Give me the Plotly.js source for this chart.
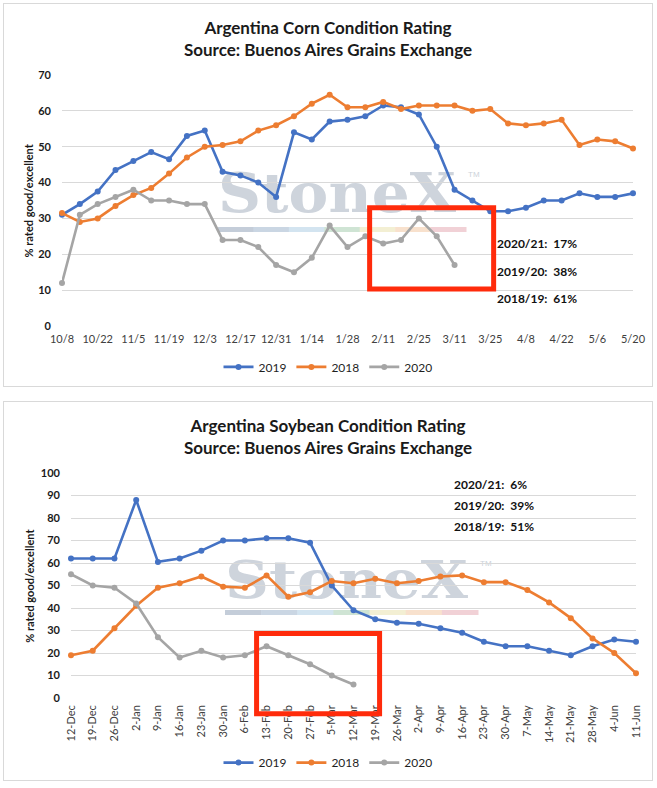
<!DOCTYPE html>
<html>
<head>
<meta charset="utf-8">
<script src="https://cdn.plot.ly/plotly-3.0.1.min.js"></script>
<style>
  html, body { margin: 0; padding: 0; background: #fff; }
  body { width: 657px; height: 788px; position: relative; overflow: hidden; }
  .frame { position: absolute; left: 3px; width: 648px; border: 1px solid #d9d9d9; background: #fff; }
  .frame > svg.wm, .frame > .chart { position: absolute; left: 0; top: 0; }
</style>
</head>
<body>
<div class="frame" id="cornFrame" style="top:3px;height:382px;">
  <svg class="wm" id="cornMark" width="648" height="382"></svg>
  <div class="chart" id="cornChart"></div>
</div>
<div class="frame" id="soyFrame" style="top:401px;height:378px;">
  <svg class="wm" id="soyMark" width="648" height="378"></svg>
  <div class="chart" id="soyChart"></div>
</div>
<script>
// corn: weekly ratings, % good/excellent
const cornWeeks = ["10/8","10/15","10/22","10/29","11/5","11/12","11/19","11/26","12/3","12/10","12/17","12/24","12/31","1/7","1/14","1/21","1/28","2/4","2/11","2/18","2/25","3/4","3/11","3/18","3/25","4/1","4/8","4/15","4/22","4/29","5/6","5/13","5/20"];
const cornTicks = ["10/8","10/22","11/5","11/19","12/3","12/17","12/31","1/14","1/28","2/11","2/25","3/11","3/25","4/8","4/22","5/6","5/20"];
const corn2019 = [31, 34, 37.5, 43.5, 46, 48.5, 46.5, 53, 54.5, 43, 42, 40, 36, 54, 52, 57, 57.5, 58.5, 61.5, 61, 59, 50, 38, 35, 32, 32, 33, 35, 35, 37, 36, 36, 37];
const corn2018 = [31.5, 29, 30, 33.5, 36.5, 38.5, 42.5, 47, 50, 50.5, 51.5, 54.5, 56, 58.5, 62, 64.5, 61, 61, 62.5, 60.5, 61.5, 61.5, 61.5, 60, 60.5, 56.5, 56, 56.5, 57.5, 50.5, 52, 51.5, 49.5];
const corn2020 = [12, 31, 34, 36, 38, 35, 35, 34, 34, 24, 24, 22, 17, 15, 19, 28, 22, 25, 23, 24, 30, 25, 17];
const cornNotes = ["2020/21:\u00a0 17%", "2019/20:\u00a0 38%", "2018/19:\u00a0 61%"];

// soybean
const soyWeeks = ["12-Dec","19-Dec","26-Dec","2-Jan","9-Jan","16-Jan","23-Jan","30-Jan","6-Feb","13-Feb","20-Feb","27-Feb","5-Mar","12-Mar","19-Mar","26-Mar","2-Apr","9-Apr","16-Apr","23-Apr","30-Apr","7-May","14-May","21-May","28-May","4-Jun","11-Jun"];
const soy2019 = [62, 62, 62, 88, 60.5, 62, 65.5, 70, 70, 71, 71, 69, 50, 39, 35, 33.5, 33, 31, 29, 25, 23, 23, 21, 19, 23, 26, 25];
const soy2018 = [19, 21, 31, 41, 49, 51, 54, 49.5, 49, 54.5, 45, 47, 52, 51, 53, 51, 52, 54, 54.5, 51.5, 51.5, 48, 42.5, 35.5, 26.5, 20, 11];
const soy2020 = [55, 50, 49, 42, 27, 18, 21, 18, 19, 23, 19, 15, 10, 6];
const soyNotes = ["2020/21:\u00a0 6%", "2019/20:\u00a0 39%", "2018/19:\u00a0 51%"];

const seriesNames = ["2019", "2018", "2020"];
const COLORS = ["#4472c4", "#ed7d31", "#a5a5a5"];
const FONT = "Lato, 'Open Sans', sans-serif";
const BAR_COLORS = ["#c4cdd9", "#cad6e3", "#d3e4f0", "#cfe4d4", "#f3efd3", "#f8e1cd", "#f1d1d6"];

function drawWatermark(svgId, x, baseline, size, len, barY) {
  const svg = document.getElementById(svgId);
  const segW = (len + 10) / BAR_COLORS.length;
  const bars = BAR_COLORS.map((c, i) =>
    `<rect x="${x + i * segW}" y="${barY - 2.5}" width="${segW + 0.5}" height="5" fill="${c}"/>`).join("");
  svg.innerHTML = `
    <text x="${x}" y="${baseline}" font-family="'DejaVu Serif', serif" font-weight="bold" font-size="${size}" fill="#ced4dc"
      textLength="${len}" lengthAdjust="spacingAndGlyphs">StoneX</text>
    <text x="${x + len + 12}" y="${baseline - size * 0.62}" font-family="Arial, sans-serif" font-size="8" fill="#ccd2da">TM</text>
    ${bars}`;
}

function makeTraces(x, ys) {
  return ys.map((y, i) => ({
    x: x.slice(0, y.length), y, name: seriesNames[i], type: "scatter", mode: "lines+markers",
    line: { color: COLORS[i], width: 2.6 }, marker: { color: COLORS[i], size: 6 },
    cliponaxis: false, hoverinfo: "x+y+name",
  }));
}

function baseLayout(title, height, margin, yMax, legendY) {
  return {
    width: 648, height, margin,
    paper_bgcolor: "rgba(0,0,0,0)", plot_bgcolor: "rgba(0,0,0,0)",
    font: { family: FONT, color: "#262626" },
    showlegend: true,
    title: {
      text: title, font: { family: FONT, size: 17, color: "#1a1a1a", weight: "bold" },
      x: 0.5, xref: "container", xanchor: "center", y: 1 - 30 / height, yref: "container", yanchor: "top",
    },
    legend: {
      orientation: "h", xref: "container", x: 0.5, xanchor: "center",
      yref: "container", y: legendY, yanchor: "middle",
      font: { family: FONT, size: 12, color: "#1f1f1f" }, itemwidth: 30, tracegroupgap: 0,
    },
    yaxis: {
      range: [0, yMax], dtick: 10, tick0: 0, showgrid: true, gridcolor: "#d9d9d9", gridwidth: 1,
      zeroline: false, showline: false, ticks: "", fixedrange: true, ticklabelstandoff: 10,
      tickfont: { family: FONT, size: 11, color: "#1a1a1a", weight: "bold" },
    },
  };
}

function noteAnnotations(notes, x, ys) {
  return notes.map((t, i) => ({
    text: `<b>${t}</b>`, xref: "paper", yref: "paper", x, y: ys[i], xanchor: "left", yanchor: "middle",
    showarrow: false, font: { family: FONT, size: 12, color: "#111" },
  }));
}

function yTitle(x) {
  return {
    text: "<b>% rated good/excellent</b>", xref: "paper", yref: "paper", x, y: 0.5, textangle: -90,
    xanchor: "center", yanchor: "middle", showarrow: false, font: { family: FONT, size: 11, color: "#1a1a1a" },
  };
}

function renderCorn() {
  drawWatermark("cornMark", 214, 207.5, 55, 238, 225.5);
  const layout = baseLayout("Argentina Corn Condition Rating<br>Source: Buenos Aires Grains Exchange",
    382, { l: 58, r: 19, t: 71, b: 60 }, 70, 0.05);
  layout.xaxis = {
    type: "category", categoryarray: cornWeeks, range: [0, cornWeeks.length - 1],
    tickmode: "array", tickvals: cornTicks, ticktext: cornTicks, ticklabelstandoff: 5,
    showgrid: false, zeroline: false, showline: false, ticks: "", fixedrange: true,
    tickfont: { family: FONT, size: 11, color: "#404040" },
  };
  layout.annotations = [yTitle(-0.058)].concat(noteAnnotations(cornNotes, 0.758, [0.329, 0.2185, 0.109]));
  layout.shapes = [{
    type: "rect", xref: "x", yref: "y", x0: 17.24, x1: 24.19, y0: 10.3, y1: 33.0,
    line: { color: "#ff2b0b", width: 5 }, fillcolor: "rgba(0,0,0,0)", layer: "above",
  }];
  Plotly.newPlot("cornChart", makeTraces(cornWeeks, [corn2019, corn2018, corn2020]), layout,
    { displayModeBar: false, staticPlot: true });
}

function renderSoy() {
  drawWatermark("soyMark", 221, 196, 52, 243, 210.5);
  const layout = baseLayout("Argentina Soybean Condition Rating<br>Source: Buenos Aires Grains Exchange",
    378, { l: 67, r: 16, t: 71, b: 82 }, 100, 0.046);
  layout.xaxis = {
    type: "category", categoryarray: soyWeeks, range: [0, soyWeeks.length - 1], tickangle: -90,
    ticklabelstandoff: 4,
    showgrid: false, zeroline: false, showline: false, ticks: "", fixedrange: true,
    tickfont: { family: FONT, size: 11, color: "#404040" },
  };
  layout.annotations = [yTitle(-0.074)].concat(noteAnnotations(soyNotes, 0.675, [0.951, 0.857, 0.7605]));
  layout.shapes = [{
    type: "rect", xref: "x", yref: "paper", x0: 8.54, x1: 14.2, y0: -0.07, y1: 0.287,
    line: { color: "#ff2b0b", width: 5 }, fillcolor: "rgba(0,0,0,0)", layer: "above",
  }];
  Plotly.newPlot("soyChart", makeTraces(soyWeeks, [soy2019, soy2018, soy2020]), layout,
    { displayModeBar: false, staticPlot: true });
}

renderCorn();
renderSoy();
</script>
</body>
</html>
